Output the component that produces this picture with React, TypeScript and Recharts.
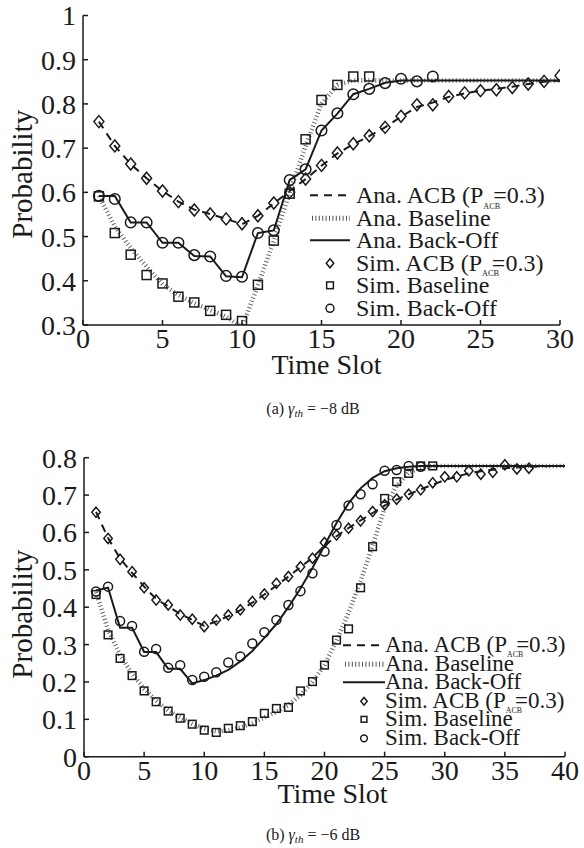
import React from 'react'
import { ComposedChart, Line, Scatter, XAxis, YAxis, Legend, Label } from 'recharts'

const FONT = '"Liberation Serif", "Times New Roman", serif'
const INK = '#1a1a1a'

// (a) gamma_th = -8 dB
const slotsA = [1, 2, 3, 4, 5, 6, 7, 8, 9, 10, 11, 12, 13, 14, 15, 16, 17, 18, 19, 20, 21, 22, 23, 24, 25, 26, 27, 28, 29, 30]
const acbAnaA = [0.76, 0.705, 0.664, 0.632, 0.603, 0.579, 0.561, 0.551, 0.54, 0.528, 0.547, 0.575, 0.603, 0.63, 0.66, 0.688, 0.709, 0.727, 0.747, 0.771, 0.793, 0.803, 0.816, 0.824, 0.83, 0.834, 0.839, 0.845, 0.85, 0.853]
const baseAnaA = [0.592, 0.523, 0.474, 0.432, 0.392, 0.368, 0.349, 0.334, 0.319, 0.295, 0.39, 0.49, 0.6, 0.705, 0.8, 0.843, 0.853, 0.853, 0.853, 0.853, 0.853, 0.853, 0.853, 0.853, 0.853, 0.853, 0.853, 0.853, 0.853, 0.853]
const backoffAnaA = [0.592, 0.592, 0.532, 0.532, 0.486, 0.486, 0.456, 0.455, 0.41, 0.408, 0.508, 0.514, 0.628, 0.652, 0.74, 0.778, 0.822, 0.834, 0.848, 0.853, 0.853, 0.853, 0.853, 0.853, 0.853, 0.853, 0.853, 0.853, 0.853, 0.853]
const acbSimA = [0.76, 0.705, 0.664, 0.632, 0.603, 0.579, 0.56, 0.551, 0.54, 0.529, 0.547, 0.576, 0.6, 0.63, 0.661, 0.689, 0.71, 0.728, 0.747, 0.772, 0.798, 0.798, 0.817, 0.825, 0.83, 0.832, 0.837, 0.845, 0.851, 0.864]
const baseSimA = [0.591, 0.508, 0.459, 0.413, 0.394, 0.364, 0.351, 0.332, 0.323, 0.309, 0.391, 0.491, 0.597, 0.72, 0.809, 0.843, 0.862, 0.862]
const backoffSimA = [0.592, 0.585, 0.532, 0.532, 0.486, 0.486, 0.458, 0.455, 0.411, 0.409, 0.508, 0.514, 0.628, 0.652, 0.74, 0.779, 0.822, 0.834, 0.847, 0.857, 0.851, 0.862]
const xTicksA = [0, 5, 10, 15, 20, 25, 30]
const yTicksA = [0.3, 0.4, 0.5, 0.6, 0.7, 0.8, 0.9, 1]

// (b) gamma_th = -6 dB
const slotsB = [1, 2, 3, 4, 5, 6, 7, 8, 9, 10, 11, 12, 13, 14, 15, 16, 17, 18, 19, 20, 21, 22, 23, 24, 25, 26, 27, 28, 29, 30, 31, 32, 33, 34, 35, 36, 37, 38, 39, 40]
const acbAnaB = [0.655, 0.585, 0.53, 0.492, 0.455, 0.422, 0.402, 0.382, 0.366, 0.35, 0.362, 0.376, 0.392, 0.412, 0.434, 0.458, 0.482, 0.507, 0.532, 0.565, 0.59, 0.612, 0.632, 0.652, 0.672, 0.688, 0.702, 0.715, 0.728, 0.74, 0.75, 0.758, 0.764, 0.768, 0.772, 0.774, 0.776, 0.777, 0.778, 0.778]
const baseAnaB = [0.44, 0.34, 0.272, 0.222, 0.182, 0.15, 0.124, 0.104, 0.088, 0.075, 0.068, 0.07, 0.078, 0.09, 0.105, 0.12, 0.138, 0.165, 0.2, 0.245, 0.31, 0.385, 0.47, 0.565, 0.665, 0.725, 0.76, 0.774, 0.778, 0.778, 0.778, 0.778, 0.778, 0.778, 0.778, 0.778, 0.778, 0.778, 0.778, 0.778]
const backoffAnaB = [0.445, 0.452, 0.345, 0.345, 0.28, 0.28, 0.235, 0.235, 0.196, 0.205, 0.217, 0.232, 0.255, 0.283, 0.318, 0.355, 0.4, 0.45, 0.505, 0.565, 0.625, 0.678, 0.718, 0.746, 0.764, 0.772, 0.776, 0.778, 0.778, 0.778, 0.778, 0.778, 0.778, 0.778, 0.778, 0.778, 0.778, 0.778, 0.778, 0.778]
const acbSimB = [0.654, 0.584, 0.528, 0.495, 0.452, 0.419, 0.406, 0.379, 0.368, 0.348, 0.366, 0.379, 0.393, 0.415, 0.435, 0.464, 0.482, 0.508, 0.531, 0.573, 0.593, 0.611, 0.631, 0.656, 0.674, 0.689, 0.702, 0.714, 0.733, 0.749, 0.749, 0.765, 0.756, 0.761, 0.781, 0.77, 0.772]
const baseSimB = [0.434, 0.326, 0.263, 0.217, 0.176, 0.147, 0.122, 0.103, 0.087, 0.071, 0.065, 0.076, 0.083, 0.094, 0.116, 0.129, 0.132, 0.176, 0.201, 0.245, 0.312, 0.342, 0.452, 0.562, 0.691, 0.736, 0.758, 0.778, 0.778]
const backoffSimB = [0.442, 0.455, 0.363, 0.35, 0.281, 0.288, 0.238, 0.245, 0.205, 0.214, 0.226, 0.252, 0.268, 0.303, 0.333, 0.366, 0.406, 0.443, 0.491, 0.549, 0.62, 0.672, 0.702, 0.729, 0.765, 0.767, 0.778, 0.776]
const xTicksB = [0, 5, 10, 15, 20, 25, 30, 35, 40]
const yTicksB = [0, 0.1, 0.2, 0.3, 0.4, 0.5, 0.6, 0.7, 0.8]

const legendRows = [
  { kind: 'dash', label: 'Ana. ACB', pacb: true },
  { kind: 'dot', label: 'Ana. Baseline', pacb: false },
  { kind: 'solid', label: 'Ana. Back-Off', pacb: false },
  { kind: 'diamond', label: 'Sim. ACB', pacb: true },
  { kind: 'square', label: 'Sim. Baseline', pacb: false },
  { kind: 'circle', label: 'Sim. Back-Off', pacb: false },
]

const pts = (xs: number[], ys: number[]) => ys.map((y, i) => ({ x: xs[i], y }))

function marker(kind: string, cx: number, cy: number, s: number) {
  if (kind === 'diamond') {
    const w = 5 * s, h = 6 * s
    return <path d={`M${cx},${cy - h}L${cx + w},${cy}L${cx},${cy + h}L${cx - w},${cy}Z`} fill="none" stroke={INK} strokeWidth={1.5} />
  }
  if (kind === 'square') {
    const a = 4.5 * s
    return <rect x={cx - a} y={cy - a} width={2 * a} height={2 * a} fill="none" stroke={INK} strokeWidth={1.5} />
  }
  return <circle cx={cx} cy={cy} r={5.3 * s} fill="none" stroke={INK} strokeWidth={1.5} />
}

const shape = (kind: string, s: number) => (p: any) => marker(kind, p.cx, p.cy, s)

function LegendIcon({ kind, w, h, s }: { kind: string; w: number; h: number; s: number }) {
  const y = h / 2
  if (kind === 'dash') return <line x1={0} y1={y} x2={w} y2={y} stroke={INK} strokeWidth={2} strokeDasharray="8 6" />
  if (kind === 'dot') return <line x1={2} y1={y} x2={w} y2={y} stroke="#555" strokeWidth={5} strokeDasharray="1 2.4" />
  if (kind === 'solid') return <line x1={0} y1={y} x2={w} y2={y} stroke={INK} strokeWidth={2} />
  return marker(kind, w / 2, y, s * 0.75)
}

// "(P_ACB=0.3)" with the tiny subscript tucked under the equals sign, like the original
function Pacb() {
  return (
    <>
      {' (P'}
      <span style={{ fontSize: '0.34em', position: 'relative', top: '0.7em', lineHeight: 0 }}>ACB</span>
      <span style={{ marginLeft: -7 }}>=</span>
      {'0.3)'}
    </>
  )
}

interface PanelProps {
  top: number
  height: number
  margin: { top: number; right: number; bottom: number; left: number }
  yWidth: number
  slots: number[]
  acbAna: number[]
  baseAna: number[]
  backoffAna: number[]
  acbSim: number[]
  baseSim: number[]
  backoffSim: number[]
  xTicks: number[]
  yTicks: number[]
  titleBaseline: number
  titleDx: number
  yTitleDy: number
  legendLeft: number
  legendTop: number
  legendFont: number
  rowH: number
  iconW: number
  gap: number
  s: number
}

function Panel(p: PanelProps) {
  const table = p.slots.map((x, i) => ({ x, acb: p.acbAna[i], base: p.baseAna[i], backoff: p.backoffAna[i] }))
  const xDomain = [p.xTicks[0], p.xTicks[p.xTicks.length - 1]]
  const yDomain = [p.yTicks[0], p.yTicks[p.yTicks.length - 1]]
  const tickStyle = { fontSize: 28, fontFamily: FONT, fill: INK }
  const yFmt = (v: number) => (v === 0 || v === 1 ? String(v) : v.toFixed(1))

  return (
    <div style={{ position: 'absolute', left: 0, top: p.top, fontFamily: FONT }}>
      <ComposedChart width={584} height={p.height} data={table} margin={p.margin} style={{ fontFamily: FONT }}>
        <XAxis
          dataKey="x"
          type="number"
          domain={xDomain}
          ticks={p.xTicks}
          interval={0}
          allowDataOverflow
          height={30}
          tickSize={-5}
          tickMargin={8}
          tick={tickStyle}
          stroke={INK}
          strokeWidth={1.5}
        >
          <Label
            content={(lp: any) => (
              <text
                x={lp.viewBox.x + lp.viewBox.width / 2 + p.titleDx}
                y={lp.viewBox.y + p.titleBaseline}
                textAnchor="middle"
                fontFamily={FONT}
                fontSize={28}
                fill={INK}
              >
                Time Slot
              </text>
            )}
          />
        </XAxis>
        <XAxis
          xAxisId="top"
          orientation="top"
          type="number"
          domain={xDomain}
          ticks={p.xTicks}
          allowDataOverflow
          height={0}
          tickSize={-5}
          tickFormatter={() => ''}
          stroke={INK}
          strokeWidth={1.5}
        />
        <YAxis
          type="number"
          domain={yDomain}
          ticks={p.yTicks}
          interval={0}
          allowDataOverflow
          width={p.yWidth}
          tickSize={-5}
          tickMargin={12}
          tickFormatter={yFmt}
          tick={tickStyle}
          stroke={INK}
          strokeWidth={1.5}
        >
          <Label
            content={(lp: any) => {
              const cx = 22
              const cy = lp.viewBox.y + lp.viewBox.height / 2 + p.yTitleDy
              return (
                <text
                  x={cx}
                  y={cy}
                  transform={`rotate(-90 ${cx} ${cy})`}
                  textAnchor="middle"
                  dominantBaseline="central"
                  fontFamily={FONT}
                  fontSize={29}
                  fill={INK}
                >
                  Probability
                </text>
              )
            }}
          />
        </YAxis>
        <YAxis
          yAxisId="right"
          orientation="right"
          type="number"
          domain={yDomain}
          ticks={p.yTicks}
          allowDataOverflow
          width={0}
          tickSize={-5}
          tickFormatter={() => ''}
          stroke={INK}
          strokeWidth={1.5}
        />
        <Legend
          layout="vertical"
          align="center"
          verticalAlign="middle"
          wrapperStyle={{ left: p.legendLeft, top: p.legendTop, width: 260, height: 'auto' }}
          content={() => (
            <div style={{ fontFamily: FONT, fontSize: p.legendFont, color: INK, lineHeight: `${p.rowH}px` }}>
              {legendRows.map(r => (
                <div key={r.label} style={{ display: 'flex', alignItems: 'center', height: p.rowH, whiteSpace: 'nowrap' }}>
                  <svg width={p.iconW} height={p.rowH} style={{ marginRight: p.gap, flex: 'none' }}>
                    <LegendIcon kind={r.kind} w={p.iconW} h={p.rowH} s={p.s} />
                  </svg>
                  <span style={{ lineHeight: `${p.rowH}px` }}>
                    {r.label}
                    {r.pacb && <Pacb />}
                  </span>
                </div>
              ))}
            </div>
          )}
        />
        <Line type="linear" dataKey="acb" stroke={INK} strokeWidth={2} strokeDasharray="8 6" dot={false} isAnimationActive={false} />
        <Line type="linear" dataKey="base" stroke="#666" strokeWidth={4.5} strokeDasharray="1 2.5" dot={false} isAnimationActive={false} />
        <Line type="linear" dataKey="backoff" stroke={INK} strokeWidth={2} dot={false} isAnimationActive={false} />
        <Scatter data={pts(p.slots, p.acbSim)} dataKey="y" shape={shape('diamond', p.s)} isAnimationActive={false} />
        <Scatter data={pts(p.slots, p.baseSim)} dataKey="y" shape={shape('square', p.s)} isAnimationActive={false} />
        <Scatter data={pts(p.slots, p.backoffSim)} dataKey="y" shape={shape('circle', p.s)} isAnimationActive={false} />
      </ComposedChart>
    </div>
  )
}

function Caption({ top, tag, db }: { top: number; tag: string; db: string }) {
  return (
    <div
      style={{
        position: 'absolute',
        left: 313,
        top,
        transform: 'translateX(-50%)',
        whiteSpace: 'nowrap',
        fontFamily: FONT,
        fontSize: 16,
        lineHeight: '18px',
        color: INK,
      }}
    >
      ({tag}) <i>γ</i>
      <i style={{ fontSize: 11, position: 'relative', top: 3 }}>th</i> = −{db} dB
    </div>
  )
}

export default function App() {
  return (
    <div style={{ position: 'absolute', left: 0, top: 0, width: 584, height: 848, background: '#fff', overflow: 'hidden' }}>
      <Panel
        top={0}
        height={400}
        margin={{ top: 15.5, right: 24, bottom: 45, left: 0 }}
        yWidth={83}
        slots={slotsA}
        acbAna={acbAnaA}
        baseAna={baseAnaA}
        backoffAna={backoffAnaA}
        acbSim={acbSimA}
        baseSim={baseSimA}
        backoffSim={backoffSimA}
        xTicks={xTicksA}
        yTicks={yTicksA}
        titleBaseline={49}
        titleDx={5}
        yTitleDy={4}
        legendLeft={310}
        legendTop={184}
        legendFont={24}
        rowH={22.6}
        iconW={40}
        gap={6}
        s={1}
      />
      <Caption top={400} tag="a" db="8" />
      <Panel
        top={420}
        height={428}
        margin={{ top: 37.7, right: 19, bottom: 61.3, left: 0 }}
        yWidth={84}
        slots={slotsB}
        acbAna={acbAnaB}
        baseAna={baseAnaB}
        backoffAna={backoffAnaB}
        acbSim={acbSimB}
        baseSim={baseSimB}
        backoffSim={backoffSimB}
        xTicks={xTicksB}
        yTicks={yTicksB}
        titleBaseline={46}
        titleDx={8}
        yTitleDy={7}
        legendLeft={343}
        legendTop={216}
        legendFont={23}
        rowH={18.6}
        iconW={42}
        gap={0}
        s={0.85}
      />
      <Caption top={826} tag="b" db="6" />
    </div>
  )
}
